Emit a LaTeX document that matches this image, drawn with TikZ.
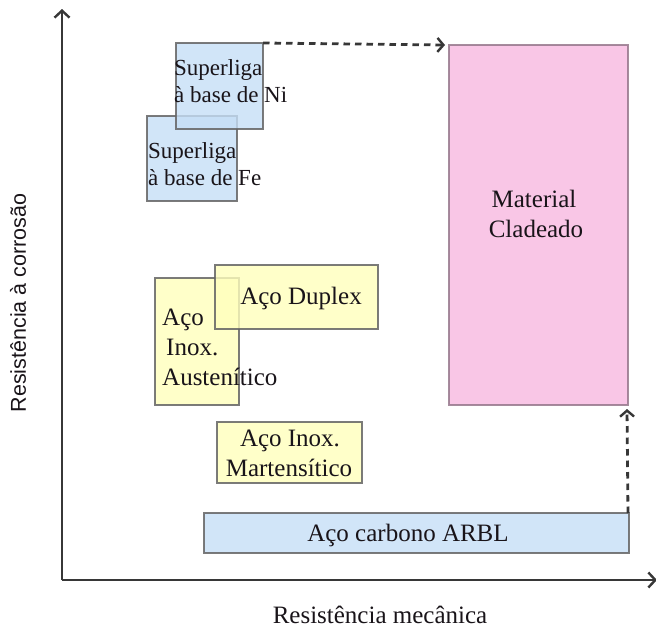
\documentclass[tikz,border=0pt]{standalone}
\usepackage{fontspec}
\setmainfont{Liberation Serif}
\newfontfamily\arialf{Liberation Sans}
\usetikzlibrary{arrows.meta}
\definecolor{bluef}{RGB}{197,222,246}
\definecolor{yelf}{RGB}{255,255,188}
\definecolor{pinkf}{RGB}{249,198,230}
\definecolor{edgec}{RGB}{100,100,100}
\definecolor{pinke}{RGB}{150,120,140}
\definecolor{axisc}{RGB}{55,55,55}
\definecolor{txtc}{RGB}{25,20,25}
\begin{document}
\begin{tikzpicture}[x=1pt,y=-1pt,
  bx/.style={rectangle,draw=edgec,line width=1.8pt,inner sep=0pt,outer sep=0pt,fill opacity=0.8,draw opacity=0.85},
  bluebox/.style={bx,fill=bluef},
  yelbox/.style={bx,fill=yelf},
  pinkbox/.style={bx,fill=pinkf,draw=pinke,fill opacity=1},
  lbl/.style={inner sep=0pt,anchor=base west,text=txtc,font=\fontsize{23}{28}\selectfont},
  lblb/.style={inner sep=0pt,anchor=base west,text=txtc,font=\fontsize{25}{30}\selectfont},
  clbl/.style={inner sep=0pt,anchor=base,text=txtc,font=\fontsize{25}{30}\selectfont},
  axis/.style={draw=axisc,line width=2.6pt,-{Straight Barb[length=7pt,width=15pt,line width=2.4pt]}},
  dasharrow/.style={draw=axisc,line width=2.8pt,dash pattern=on 6.5pt off 5pt,-{Straight Barb[length=6pt,width=14pt,line width=2.4pt]}}
]
\useasboundingbox (0,0) rectangle (656,629);
% axes
\coordinate (o) at (62,580);
\coordinate (ytop) at (62,9);
\coordinate (xend) at (657,580);
\draw[axis] (o) -- (ytop);
\draw[axis] (o) -- (xend);
\node[inner sep=0pt,text=txtc,font=\fontsize{25}{30}\selectfont] (xl) at (380,615) {Resistência mecânica};
\node[inner sep=0pt,rotate=90,text=txtc,font=\arialf\fontsize{21.5}{26}\selectfont] (yl) at (18,303) {Resistência à corrosão};
% boxes
\node[bluebox,minimum width=90pt,minimum height=85pt] (fe) at (192,158.5) {};
\node[bluebox,minimum width=87pt,minimum height=86pt] (ni) at (219.5,86) {};
\node[pinkbox,minimum width=179pt,minimum height=360pt] (clad) at (538.5,225) {};
\node[yelbox,minimum width=84pt,minimum height=127pt] (aus) at (197,341.5) {};
\node[yelbox,minimum width=163pt,minimum height=64pt] (dup) at (296.5,297) {};
\node[yelbox,minimum width=145pt,minimum height=61pt] (mart) at (289.5,452.5) {};
\node[bluebox,minimum width=425pt,minimum height=40pt] (arbl) at (416.5,533) {};
% texts
\node[lbl] (ni1) at (174,75) {Superliga};
\node[lbl] (ni2) at (174,102) {à base de Ni};
\node[lbl] (fe1) at (148,158) {Superliga};
\node[lbl] (fe2) at (148,185) {à base de Fe};
\node[clbl] (cl1) at (534,207) {Material};
\node[clbl] (cl2) at (536,237) {Cladeado};
\node[clbl] (dupt) at (301,304) {Aço Duplex};
\node[lblb] (au1) at (162,325) {Aço};
\node[lblb] (au2) at (166,355) {Inox.};
\node[lblb] (au3) at (162,385) {Austenítico};
\node[clbl] (ma1) at (290,446) {Aço Inox.};
\node[clbl] (ma2) at (289,476) {Martensítico};
\node[clbl] (arblt) at (408,541) {Aço carbono ARBL};
% dashed arrows
\draw[dasharrow] (ni.north east) -- ([xshift=-4pt]clad.north west);
\draw[dasharrow] ([xshift=-1pt]arbl.north east) -- ([xshift=-1pt,yshift=-4pt]clad.south east);
\end{tikzpicture}
\end{document}
